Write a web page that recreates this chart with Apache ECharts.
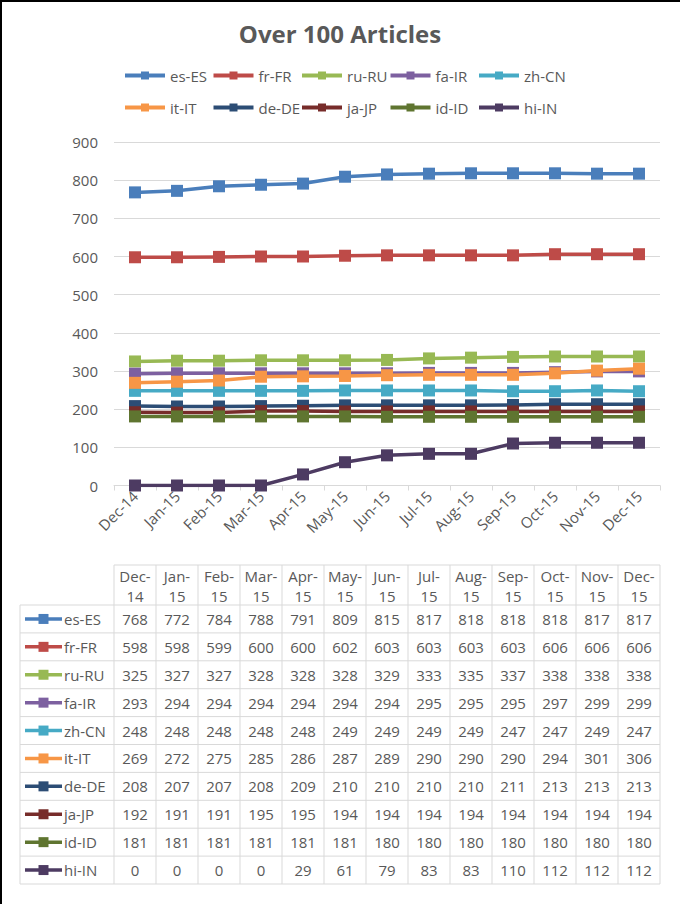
<!DOCTYPE html>
<html><head><meta charset="utf-8">
<script src="https://cdn.jsdelivr.net/npm/echarts@6/dist/echarts.min.js"></script>
<style>html,body{margin:0;padding:0;background:#fff}#c{width:680px;height:904px}</style>
</head><body><div id="c"></div>
<script>
const categories = ['Dec-14','Jan-15','Feb-15','Mar-15','Apr-15','May-15','Jun-15','Jul-15','Aug-15','Sep-15','Oct-15','Nov-15','Dec-15'];
const seriesNames = ['es-ES','fr-FR','ru-RU','fa-IR','zh-CN','it-IT','de-DE','ja-JP','id-ID','hi-IN'];
const esES = [768,772,784,788,791,809,815,817,818,818,818,817,817];
const frFR = [598,598,599,600,600,602,603,603,603,603,606,606,606];
const ruRU = [325,327,327,328,328,328,329,333,335,337,338,338,338];
const faIR = [293,294,294,294,294,294,294,295,295,295,297,299,299];
const zhCN = [248,248,248,248,248,249,249,249,249,247,247,249,247];
const itIT = [269,272,275,285,286,287,289,290,290,290,294,301,306];
const deDE = [208,207,207,208,209,210,210,210,210,211,213,213,213];
const jaJP = [192,191,191,195,195,194,194,194,194,194,194,194,194];
const idID = [181,181,181,181,181,181,180,180,180,180,180,180,180];
const hiIN = [0,0,0,0,29,61,79,83,83,110,112,112,112];
const yTicks = [0,100,200,300,400,500,600,700,800,900];
const colors = ['#4A7EBB','#BE4B48','#98B954','#7D60A0','#46AAC5','#F79646','#2C4D75','#772C2A','#5F7530','#4D3B62'];
const seriesData = [esES,frFR,ruRU,faIR,zhCN,itIT,deDE,jaJP,idID,hiIN];

const FONT = '"Open Sans", "Noto Sans", sans-serif';
const TXT = '#595959';
const GRID = '#d9d9d9';

const chart = echarts.init(document.getElementById('c'), null, {renderer:'svg'});
// legend laid out as 5 columns x 2 rows (like the Excel legend)
const legendCols = 5, legendStart = 123, legendColW = 88.5;
const legends = [];
for (let c=0;c<legendCols;c++) {
  legends.push({
    orient:'vertical', left: legendStart + c*legendColW, top:68, padding:0,
    itemWidth:40, itemHeight:10, itemGap:17, selectedMode:false,
    lineStyle:{width:4},
    data:[seriesNames[c], seriesNames[c+legendCols]],
    textStyle:{fontSize:15, color:TXT, fontFamily:FONT}
  });
}
chart.setOption({
  animation:false,
  color: colors,
  title:{text:'Over 100 Articles', left:'center', top:16,
    textStyle:{fontSize:24, fontWeight:'bold', color:TXT, fontFamily:FONT}},
  legend: legends,
  grid:{left:114, right:20, top:142, bottom:418.5, containLabel:false},
  xAxis:{type:'category', data:categories, boundaryGap:true,
    axisLine:{lineStyle:{color:GRID, width:1}},
    axisTick:{show:true, length:5, lineStyle:{color:GRID}},
    axisLabel:{rotate:45, interval:0, fontSize:15, color:TXT, fontFamily:FONT, margin:8}},
  yAxis:{type:'value', min:yTicks[0], max:yTicks[yTicks.length-1], interval:100,
    axisLine:{show:false}, axisTick:{show:false},
    splitLine:{lineStyle:{color:GRID, width:1}},
    axisLabel:{fontSize:15, color:TXT, fontFamily:FONT, margin:16}},
  series: seriesNames.map((n,i)=>({
    name:n, type:'line', data:seriesData[i], symbol:'rect', symbolSize:12,
    lineStyle:{width:3.5, color:colors[i]}, itemStyle:{color:colors[i]}
  }))
});

// data table
const colX = categories.map((c,i)=>chart.convertToPixel({xAxisIndex:0}, i));
const colW = colX[1]-colX[0];
const tLeft = 20, tRight = colX[colX.length-1]+colW/2, firstColL = colX[0]-colW/2;
const tTop = 565, headH = 40, rowH = 27.9;
const g = [];
const line = (x1,y1,x2,y2)=>g.push({type:'line', silent:true, shape:{x1,y1,x2,y2}, style:{stroke:GRID, lineWidth:1}});
const text = (t,x,y,align)=>g.push({type:'text', silent:true, style:{text:t, x, y, fill:TXT, font:'15px '+FONT, textAlign:align, textVerticalAlign:'middle', align:align, verticalAlign:'middle'}});
const bodyTop = tTop+headH, tBottom = bodyTop + rowH*seriesNames.length;
line(firstColL, tTop, tRight, tTop);
for (let r=0;r<=seriesNames.length;r++) line(tLeft, bodyTop+r*rowH, tRight, bodyTop+r*rowH);
line(tLeft, bodyTop, tLeft, tBottom);
for (let c=0;c<=categories.length;c++) { const x = firstColL + c*colW; line(x, tTop, x, tBottom); }
categories.forEach((c,i)=>{
  const parts = c.split('-');
  text(parts[0]+'-', colX[i], tTop+11, 'center');
  text(parts[1], colX[i], tTop+31, 'center');
});
seriesNames.forEach((n,r)=>{
  const cy = bodyTop + r*rowH + rowH/2;
  g.push({type:'line', silent:true, shape:{x1:25,y1:cy,x2:62,y2:cy}, style:{stroke:colors[r], lineWidth:3.5}});
  g.push({type:'rect', silent:true, shape:{x:38.5,y:cy-5,width:10,height:10}, style:{fill:colors[r]}});
  text(n, 64, cy, 'left');
  seriesData[r].forEach((v,i)=>text(String(v), colX[i], cy, 'center'));
});
// outer frame edges visible in the reference (left and top)
g.push({type:'line', silent:true, shape:{x1:1,y1:0,x2:1,y2:904}, style:{stroke:'#000', lineWidth:2}});
g.push({type:'line', silent:true, shape:{x1:0,y1:1,x2:680,y2:1}, style:{stroke:'#000', lineWidth:2}});
chart.setOption({graphic:{elements:g}});
</script></body></html>
